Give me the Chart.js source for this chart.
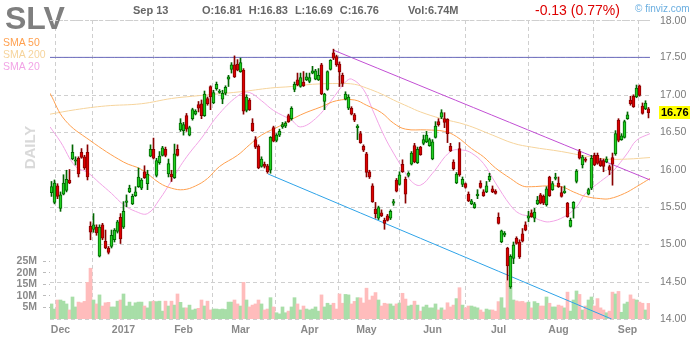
<!DOCTYPE html>
<html>
<head>
<meta charset="utf-8">
<script src="https://cdn.jsdelivr.net/npm/chart.js@4.4.1/dist/chart.umd.min.js"></script>
<style>
  body { margin: 0; background: #fff; }
  #wrap { position: relative; width: 700px; height: 340px; font-family: Arial, 'Liberation Sans', sans-serif; }
  #wrap canvas { position: absolute; left: 0; top: 0; }
  #wrap .t { position: absolute; white-space: nowrap; line-height: 1; z-index: 2; }
  #ticker { left: 5px; top: 2px; font-size: 32px; font-weight: bold; color: #7f7f7f; }
  .hdr { font-size: 11px; font-weight: bold; color: #666; top: 5px; }
  .hdr span { margin-right: 7px; }
  #change { left: 535px; top: 3px; font-size: 14px; color: #dd0000; }
  #brand { left: 635px; top: 4px; font-size: 10px; color: #6aaee0; }
  .sma { left: 3px; font-size: 10.5px; }
  #daily { left: 7px; top: 140px; width: 45px; text-align: center; font-size: 15px; font-weight: bold; color: #d9d9d9; transform: rotate(-90deg); transform-origin: 22.5px 7.5px; }
  #topLabel { left: 660px; font-size: 10.5px; color: #7a7a7a; }
  #topLine { position: absolute; z-index: 2; left: 50px; width: 600px; height: 0; border-top: 1px dashed #cfcfcf; }
</style>
</head>
<body>
<div id="wrap">
  <canvas id="chart" width="700" height="340"></canvas>
  <div class="t" id="ticker">SLV</div>
  <div class="t hdr" style="left:133px">Sep 13</div>
  <div class="t hdr" style="left:202px"><span>O:16.81</span><span>H:16.83</span><span>L:16.69</span><span>C:16.76</span></div>
  <div class="t hdr" style="left:408px">Vol:6.74M</div>
  <div class="t" id="change">-0.13 (0.77%)</div>
  <div class="t" id="brand">© finviz.com</div>
  <div class="t sma" style="top:37px;color:#ffa04f">SMA 50</div>
  <div class="t sma" style="top:49px;color:#f6d49c">SMA 200</div>
  <div class="t sma" style="top:61px;color:#f2a4e6">SMA 20</div>
  <div class="t" id="daily">DAILY</div>
  <div id="topLine"></div>
  <div class="t" id="topLabel"></div>
</div>
<script>
// Daily candles, Nov 28 2016 .. Sep 13 2017 (index = trading day)
const opens = [
  15.69, 15.56, 15.78, 15.48, 15.67, 15.72, 15.86, 16.14, 16.11, 16.15,
  16.23, 16.17, 16.23, 15.24, 15.20, 15.23, 14.84, 15.26, 15.04, 14.95,
  14.97, 15.06, 15.17, 15.36, 15.23, 15.56, 15.70, 15.54, 15.65, 15.77,
  15.75, 15.97, 15.81, 16.18, 16.27, 15.92, 16.09, 16.19, 16.27, 15.94,
  15.94, 15.89, 16.27, 16.53, 16.52, 16.72, 16.46, 16.68, 16.74, 16.87,
  16.88, 16.72, 16.95, 17.11, 16.89, 17.08, 17.03, 16.94, 17.02, 17.21,
  17.34, 17.40, 17.41, 17.31, 17.33, 16.79, 16.93, 16.62, 16.40, 16.31,
  16.04, 16.07, 16.05, 15.99, 16.56, 16.39, 16.46, 16.57, 16.58, 16.72,
  16.68, 17.07, 17.20, 17.11, 17.17, 17.20, 17.18, 17.29, 17.21, 17.20,
  17.40, 16.91, 17.07, 17.34, 17.56, 17.51, 17.41, 17.26, 16.94, 16.82,
  16.82, 16.73, 16.56, 16.48, 16.31, 16.21, 15.97, 15.78, 15.47, 15.35,
  15.42, 15.32, 15.38, 15.35, 15.55, 15.86, 15.80, 16.07, 15.87, 15.92,
  16.07, 16.32, 16.09, 16.30, 16.35, 16.37, 16.32, 16.14, 16.43, 16.64,
  16.70, 16.68, 16.67, 16.31, 16.10, 15.82, 16.28, 15.80, 15.81, 15.67,
  15.54, 15.49, 15.65, 15.82, 15.70, 15.70, 15.86, 15.74, 15.71, 15.36,
  15.03, 15.12, 14.95, 14.43, 14.81, 15.08, 15.03, 15.14, 15.26, 15.35,
  15.42, 15.35, 15.54, 15.66, 15.64, 15.53, 15.90, 15.73, 15.88, 15.82,
  15.69, 15.69, 15.55, 15.24, 15.48, 15.84, 16.24, 16.06, 16.14, 15.67,
  15.75, 16.19, 16.19, 16.12, 16.12, 16.10, 16.04, 16.16, 16.21, 16.66,
  16.40, 16.43, 16.68, 16.93, 16.98, 16.97, 17.12, 16.85, 16.81, 16.81
];
const highs = [
  15.84, 15.86, 15.81, 15.70, 15.93, 15.99, 16.00, 16.33, 16.17, 16.17,
  16.28, 16.19, 16.33, 15.30, 15.41, 15.26, 15.26, 15.28, 15.19, 14.97,
  15.19, 15.21, 15.32, 15.41, 15.57, 15.66, 15.79, 15.67, 15.77, 16.02,
  15.88, 16.05, 15.99, 16.33, 16.42, 16.15, 16.24, 16.31, 16.30, 16.14,
  15.99, 16.34, 16.33, 16.68, 16.63, 16.75, 16.58, 16.82, 16.80, 16.91,
  16.93, 17.05, 16.97, 17.12, 17.06, 17.17, 17.07, 17.06, 17.12, 17.26,
  17.43, 17.52, 17.47, 17.49, 17.35, 17.00, 16.95, 16.68, 16.44, 16.33,
  16.17, 16.10, 16.07, 16.44, 16.58, 16.48, 16.54, 16.63, 16.64, 16.74,
  16.84, 17.17, 17.29, 17.29, 17.31, 17.29, 17.29, 17.38, 17.34, 17.35,
  17.42, 17.02, 17.32, 17.47, 17.61, 17.53, 17.44, 17.29, 17.04, 17.00,
  16.84, 16.75, 16.60, 16.51, 16.33, 16.23, 15.99, 15.81, 15.56, 15.51,
  15.46, 15.35, 15.40, 15.46, 15.60, 15.88, 15.97, 16.13, 15.90, 15.97,
  16.24, 16.35, 16.30, 16.31, 16.46, 16.51, 16.42, 16.40, 16.64, 16.68,
  16.80, 16.76, 16.68, 16.35, 16.13, 15.96, 16.36, 15.90, 15.82, 15.70,
  15.60, 15.56, 15.73, 15.85, 15.73, 15.84, 15.95, 15.78, 15.73, 15.42,
  15.19, 15.17, 14.96, 14.86, 15.03, 15.10, 15.06, 15.21, 15.30, 15.44,
  15.46, 15.48, 15.64, 15.68, 15.66, 15.77, 15.91, 15.84, 15.95, 15.90,
  15.77, 15.78, 15.56, 15.35, 15.57, 16.00, 16.27, 16.19, 16.16, 15.75,
  16.19, 16.22, 16.22, 16.15, 16.14, 16.17, 16.06, 16.22, 16.52, 16.68,
  16.48, 16.66, 16.77, 16.98, 17.00, 17.13, 17.13, 16.89, 16.92, 16.83
];
const lows = [
  15.64, 15.54, 15.61, 15.44, 15.66, 15.70, 15.81, 16.13, 16.06, 15.90,
  16.15, 16.00, 15.86, 15.06, 15.16, 15.12, 14.83, 15.06, 14.94, 14.87,
  14.95, 15.03, 15.15, 15.01, 15.21, 15.50, 15.69, 15.53, 15.64, 15.76,
  15.73, 15.88, 15.73, 16.17, 16.14, 15.90, 16.07, 16.18, 16.17, 15.90,
  15.84, 15.88, 16.18, 16.51, 16.46, 16.51, 16.45, 16.66, 16.73, 16.77,
  16.68, 16.71, 16.86, 16.80, 16.88, 17.06, 17.02, 16.88, 17.00, 17.11,
  17.29, 17.23, 17.32, 17.30, 16.74, 16.77, 16.79, 16.51, 16.28, 16.01,
  16.03, 16.02, 15.95, 15.95, 16.37, 16.37, 16.44, 16.55, 16.56, 16.63,
  16.66, 17.04, 17.12, 17.10, 17.11, 17.19, 17.16, 17.28, 17.20, 17.19,
  17.00, 16.80, 17.06, 17.33, 17.47, 17.38, 17.11, 17.11, 16.93, 16.80,
  16.73, 16.64, 16.40, 16.35, 16.24, 15.90, 15.88, 15.56, 15.35, 15.33,
  15.37, 15.20, 15.31, 15.33, 15.52, 15.70, 15.79, 15.96, 15.55, 15.90,
  16.06, 16.09, 16.08, 16.19, 16.33, 16.36, 16.31, 16.13, 16.42, 16.58,
  16.68, 16.56, 16.36, 16.24, 15.99, 15.81, 15.91, 15.77, 15.75, 15.57,
  15.53, 15.48, 15.61, 15.75, 15.64, 15.69, 15.84, 15.69, 15.67, 15.27,
  15.02, 15.10, 14.52, 14.41, 14.74, 15.00, 14.81, 15.03, 15.18, 15.30,
  15.36, 15.30, 15.53, 15.54, 15.53, 15.51, 15.64, 15.72, 15.86, 15.76,
  15.63, 15.68, 15.36, 15.23, 15.35, 15.82, 16.14, 16.02, 16.10, 15.66,
  15.73, 16.05, 16.07, 16.04, 15.97, 16.09, 15.93, 15.79, 16.19, 16.37,
  16.39, 16.42, 16.67, 16.86, 16.83, 16.96, 16.98, 16.74, 16.80, 16.69
];
const closes = [
  15.77, 15.82, 15.64, 15.66, 15.82, 15.87, 15.82, 16.23, 16.13, 15.94,
  16.16, 16.02, 15.90, 15.16, 15.26, 15.15, 15.23, 15.08, 14.95, 14.89,
  15.12, 15.19, 15.30, 15.07, 15.44, 15.58, 15.75, 15.64, 15.70, 15.90,
  15.86, 15.89, 15.94, 16.27, 16.15, 16.12, 16.18, 16.29, 16.19, 16.08,
  15.90, 16.21, 16.19, 16.62, 16.60, 16.54, 16.56, 16.80, 16.78, 16.82,
  16.72, 17.01, 16.88, 16.97, 17.03, 17.14, 17.05, 17.02, 17.10, 17.24,
  17.40, 17.24, 17.33, 17.43, 16.78, 16.97, 16.80, 16.52, 16.30, 16.02,
  16.14, 16.04, 15.97, 16.43, 16.38, 16.46, 16.51, 16.60, 16.62, 16.64,
  16.82, 17.14, 17.13, 17.23, 17.12, 17.24, 17.23, 17.32, 17.32, 17.26,
  17.01, 17.01, 17.31, 17.46, 17.49, 17.40, 17.31, 17.15, 17.01, 16.97,
  16.74, 16.66, 16.58, 16.36, 16.26, 15.96, 15.90, 15.57, 15.41, 15.49,
  15.38, 15.28, 15.32, 15.44, 15.57, 15.71, 15.93, 15.97, 15.67, 15.95,
  16.22, 16.10, 16.27, 16.20, 16.40, 16.46, 16.40, 16.37, 16.58, 16.60,
  16.76, 16.63, 16.48, 16.25, 16.01, 15.94, 15.93, 15.87, 15.76, 15.58,
  15.58, 15.54, 15.67, 15.76, 15.65, 15.78, 15.91, 15.70, 15.68, 15.28,
  15.18, 15.15, 14.71, 14.84, 14.99, 15.01, 14.83, 15.04, 15.19, 15.38,
  15.37, 15.43, 15.59, 15.55, 15.55, 15.74, 15.65, 15.81, 15.90, 15.77,
  15.64, 15.71, 15.37, 15.32, 15.56, 15.98, 16.15, 16.17, 16.12, 15.73,
  16.15, 16.06, 16.08, 16.05, 16.04, 16.14, 15.99, 16.07, 16.48, 16.39,
  16.45, 16.64, 16.73, 16.88, 16.84, 17.09, 16.99, 16.75, 16.89, 16.76
];
// volume in millions of shares
const volumes = [
  6.5, 4.3, 8.2, 8.2, 7.7, 6.5, 3.9, 9.5, 5.2, 7.3,
  7.0, 7.6, 15.8, 21.9, 8.2, 6.5, 10.4, 5.6, 7.0, 7.2,
  5.2, 5.2, 7.7, 8.2, 10.8, 5.6, 7.3, 5.6, 7.0, 7.3,
  7.3, 5.6, 4.8, 7.5, 7.7, 7.5, 7.7, 3.4, 7.7, 5.6,
  7.7, 6.0, 10.8, 7.2, 4.8, 4.8, 6.0, 3.9, 4.3, 4.6,
  8.2, 5.6, 7.7, 3.9, 4.3, 4.3, 4.1, 4.3, 4.1, 7.3,
  7.3, 8.2, 6.5, 5.6, 15.8, 8.2, 5.2, 6.0, 6.5, 8.2,
  6.5, 3.9, 4.3, 9.2, 5.2, 2.7, 2.2, 5.2, 2.7, 3.4,
  5.2, 9.2, 6.5, 3.9, 5.6, 4.3, 3.9, 4.3, 5.2, 3.4,
  10.4, 5.2, 6.8, 6.0, 6.8, 4.3, 10.8, 6.8, 10.6, 10.4,
  6.5, 7.6, 9.2, 9.1, 6.9, 13.3, 8.2, 9.9, 11.4, 8.2,
  5.6, 6.8, 6.5, 6.5, 5.6, 6.5, 6.9, 11.1, 8.6, 5.6,
  6.0, 7.7, 6.0, 3.4, 5.2, 6.0, 4.8, 4.8, 6.5, 3.9,
  4.8, 3.9, 7.0, 5.2, 6.0, 8.8, 13.5, 6.0, 4.8, 5.6,
  5.6, 5.2, 4.8, 3.9, 3.0, 4.3, 3.9, 3.9, 3.4, 7.5,
  9.2, 4.8, 16.5, 13.9, 8.2, 7.8, 7.5, 7.6, 7.0, 7.3,
  4.8, 7.5, 6.8, 5.6, 5.6, 9.5, 6.8, 5.2, 5.2, 6.0,
  5.6, 4.8, 11.6, 3.4, 8.2, 12.1, 10.6, 3.9, 5.6, 8.2,
  9.5, 5.6, 8.8, 4.8, 3.9, 2.7, 3.4, 11.6, 10.8, 11.9,
  2.9, 6.5, 7.3, 10.4, 8.6, 8.2, 7.3, 6.8, 3.9, 6.74
];

// month gridlines (index of first trading day)
const monthIdx = [3, 24, 44, 63, 86, 105, 127, 149, 169, 192];
const monthLabels = ['Dec', '2017', 'Feb', 'Mar', 'Apr', 'May', 'Jun', 'Jul', 'Aug', 'Sep'];
const priceTicks = [14, 14.5, 15, 15.5, 16, 16.5, 17, 17.5, 18];
const volTicks = [5, 10, 15, 20, 25];

// moving averages
const sma50X = [-0.5, 4.5, 12.8, 24, 30, 36, 40, 44, 48, 52, 56, 62, 66, 70, 76, 83, 90, 95, 101, 105,
  110, 114, 118, 125, 131, 135, 140, 144, 148, 153, 157, 160, 165, 170, 174, 178, 183, 186, 191, 195, 199.5];
const sma50 = [17.02, 16.66, 16.39, 16.10, 16.00, 15.82, 15.75, 15.73, 15.78, 15.88, 16.04, 16.19, 16.33, 16.46, 16.58, 16.73, 16.84, 16.92, 16.93, 16.86,
  16.76, 16.62, 16.54, 16.53, 16.51, 16.44, 16.28, 16.17, 16.02, 15.88, 15.78, 15.77, 15.78, 15.77, 15.70, 15.64, 15.61, 15.61, 15.68, 15.77, 15.88];
const sma200X = [-0.5, 8, 18, 30, 40, 47, 63, 73, 80, 87, 96, 101, 105, 110, 114, 119, 123, 130, 138, 147, 154, 160, 170, 178, 185, 192, 199.5];
const sma200 = [16.74, 16.80, 16.85, 16.88, 16.95, 16.98, 17.04, 17.09, 17.11, 17.14, 17.15, 17.14, 17.09, 17.01, 16.93, 16.84, 16.77, 16.68, 16.60, 16.46, 16.35, 16.30, 16.24, 16.18, 16.14, 16.14, 16.16];
const sma20X = [-0.5, 3, 8, 12, 16, 20, 24, 28, 32, 36, 40, 43, 46, 50, 56, 63, 66, 70, 74, 80,
  83, 88, 93, 98, 100, 104, 107, 111, 114, 117, 120, 123, 127, 133, 137, 140, 144, 148, 153, 156,
  160, 163, 166, 171, 175, 178, 183, 187, 192, 195, 199.5];
const sma20 = [16.57, 16.37, 16.04, 15.96, 15.82, 15.68, 15.53, 15.44, 15.41, 15.60, 15.85, 16.05, 16.22, 16.42, 16.75, 17.01, 17.03, 16.92, 16.79, 16.66,
  16.57, 16.68, 16.91, 17.17, 17.21, 17.07, 16.80, 16.44, 16.22, 16.02, 15.84, 15.79, 15.95, 16.24, 16.26, 16.22, 16.08, 15.82, 15.52, 15.41,
  15.37, 15.32, 15.30, 15.37, 15.50, 15.68, 15.84, 15.97, 16.22, 16.39, 16.48];

// drawn trendlines: [start, end]
const levelX = [-0.5, 199.5], levelY = [17.5, 17.5];
const upperX = [93.8, 199.5], upperY = [17.60, 15.86];
const lowerX = [72.2, 186.7], lowerY = [15.94, 14.00];

const GREEN = '#22d022', GREEN_EDGE = '#006600';
const RED = '#dd0000', RED_EDGE = '#880000';
const GRID = '#cfcfcf';
const FONT = 'Arial, "Liberation Sans", sans-serif';

const idx = opens.map((_, i) => i);
const isUp = idx.map(i => closes[i] >= opens[i]);
const pts = (xs, ys) => xs.map((x, i) => ({ x: x, y: ys[i] }));

const lineSet = (data, color, order) => ({
    type: 'line', data: data, borderColor: color, borderWidth: 1,
    pointRadius: 0, tension: 0.4, yAxisID: 'y', order: order
});

// price grid + labels drawn from the price scale, last price marker on top
const priceAxis = {
    id: 'priceAxis',
    beforeDatasetsDraw(chart) {
        const c = chart.ctx, a = chart.chartArea, sc = chart.scales.y;
        c.save();
        c.strokeStyle = GRID;
        c.lineWidth = 1;
        c.setLineDash([4, 3]);
        priceTicks.forEach(v => {
            const y = Math.round(sc.getPixelForValue(v)) + 0.5;
            c.beginPath();
            c.moveTo(a.left, y);
            c.lineTo(a.right, y);
            c.stroke();
        });
        c.restore();
    },
    afterDraw(chart) {
        const c = chart.ctx, sc = chart.scales.y;
        c.save();
        c.textBaseline = 'middle';
        c.fillStyle = '#7a7a7a';
        c.font = '10.5px ' + FONT;
        priceTicks.slice(0, -1).forEach(v => {
            c.fillText(v.toFixed(2), 660, Math.round(sc.getPixelForValue(v)));
        });
        const last = closes[closes.length - 1];
        const y = Math.round(sc.getPixelForValue(last));
        c.fillStyle = '#ffff00';
        c.fillRect(659, y - 7, 31, 13);
        c.fillStyle = '#000';
        c.font = 'bold 11px ' + FONT;
        c.fillText(last.toFixed(2), 661, y);
        c.restore();
    }
};

const chart = new Chart(document.getElementById('chart').getContext('2d'), {
    type: 'bar',
    data: {
        datasets: [
            {
                label: 'body',
                data: idx.map(i => ({ x: i, y: [opens[i], closes[i]] })),
                backgroundColor: idx.map(i => isUp[i] ? GREEN : RED),
                borderColor: idx.map(i => isUp[i] ? GREEN_EDGE : RED_EDGE),
                borderWidth: 1, borderSkipped: false, barThickness: 3,
                grouped: false, yAxisID: 'y', order: 1
            },
            {
                label: 'wick',
                data: idx.map(i => ({ x: i, y: [lows[i], highs[i]] })),
                backgroundColor: idx.map(i => isUp[i] ? GREEN_EDGE : RED_EDGE),
                borderWidth: 0, barThickness: 1,
                grouped: false, yAxisID: 'y', order: 2
            },
            lineSet(pts(levelX, levelY), '#6b6bbd', 3),
            lineSet(pts(upperX, upperY), '#c24fd4', 3),
            lineSet(pts(lowerX, lowerY), '#2ea3e8', 3),
            lineSet(pts(sma50X, sma50), '#ffa04f', 4),
            lineSet(pts(sma200X, sma200), '#f6d49c', 4),
            lineSet(pts(sma20X, sma20), '#f2a4e6', 4),
            {
                label: 'volume',
                data: idx.map(i => ({ x: i, y: volumes[i] * 1e6 })),
                backgroundColor: idx.map(i => isUp[i] ? '#a8dea8' : '#ffbcbc'),
                borderWidth: 0, barThickness: 3,
                grouped: false, yAxisID: 'vol', order: 5
            }
        ]
    },
    options: {
        responsive: false,
        animation: false,
        events: [],
        layout: { padding: { top: 20 } },
        plugins: { legend: { display: false }, tooltip: { enabled: false } },
        scales: {
            x: {
                type: 'linear', min: -0.5, max: 199.5, offset: false,
                afterBuildTicks: s => { s.ticks = [-0.5, ...monthIdx, 199.5].map(v => ({ value: v })); },
                afterFit: s => { s.height = 21; },
                grid: { color: GRID, drawTicks: false },
                border: { display: false, dash: [4, 3] },
                ticks: {
                    autoSkip: false, maxRotation: 0, padding: 5, color: '#8a8a8a',
                    font: { family: FONT, size: 10.5, weight: 'bold' },
                    callback: v => {
                        const k = monthIdx.indexOf(v);
                        return k >= 0 ? monthLabels[k] : '';
                    }
                }
            },
            y: {
                position: 'right', min: 14, max: 18,
                afterBuildTicks: s => { s.ticks = priceTicks.map(v => ({ value: v })); },
                afterFit: s => { s.width = 50; },
                grid: { display: false },
                border: { display: false },
                ticks: { display: false }
            },
            vol: {
                position: 'left', min: 0, max: 129e6,
                afterBuildTicks: s => { s.ticks = volTicks.map(v => ({ value: v * 1e6 })); },
                afterFit: s => { s.width = 50; },
                grid: { drawOnChartArea: false, tickLength: 7, tickColor: '#bbbbbb', tickBorderDash: [3, 3] },
                border: { display: false },
                ticks: {
                    autoSkip: false, padding: 6, color: '#8a8a8a',
                    font: { family: FONT, size: 10.5, weight: 'bold' },
                    callback: v => (v / 1e6) + 'M'
                }
            }
        }
    },
    plugins: [priceAxis]
});

// top price tick placed as a page label from the price scale
const topVal = priceTicks[priceTicks.length - 1];
const topY = Math.round(chart.scales.y.getPixelForValue(topVal));
const topLabel = document.getElementById('topLabel');
topLabel.textContent = topVal.toFixed(2);
topLabel.style.top = (topY - 5) + 'px';
document.getElementById('topLine').style.top = topY + 'px';
</script>
</body>
</html>
